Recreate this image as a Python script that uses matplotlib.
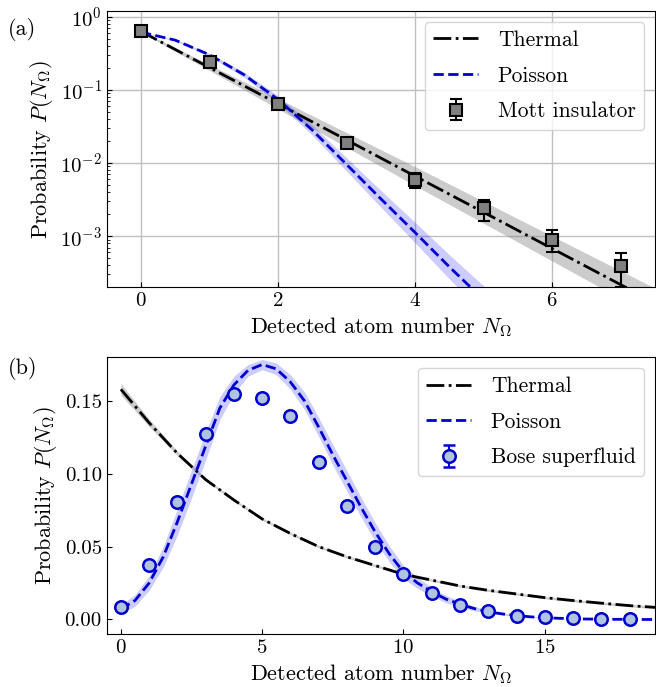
import matplotlib
matplotlib.use("Agg")
import matplotlib.pyplot as plt
import numpy as np

plt.rcParams['font.family'] = 'serif'
plt.rcParams['font.serif'] = ['cmr10']
plt.rcParams['mathtext.fontset'] = 'cm'
plt.rcParams['axes.formatter.use_mathtext'] = True
plt.rcParams['axes.unicode_minus'] = False

# ---- (a) Mott insulator, log scale ----
mott_n = [0, 1, 2, 3, 4, 5, 6, 7]
mott_p = [0.645, 0.243, 0.0645, 0.0187, 0.0059, 0.0024, 0.0009, 0.00039]
mott_err = [0.01, 0.006, 0.002, 0.001, 0.0013, 0.00077, 0.0003, 0.00019]

therm_a_n = [0, 1, 2, 3, 4, 5, 6, 7, 8]
therm_a_p = [0.631, 0.202, 0.0646, 0.0207, 0.00661, 0.00212, 0.000677, 0.000217, 0.0000694]
therm_a_band = [0.01, 0.04, 0.07, 0.10, 0.13, 0.15, 0.17, 0.19, 0.21]  # half width in decades

pois_a_n = [0, 0.5, 1, 1.5, 2, 2.5, 3, 3.5, 4, 4.5, 5]
pois_a_p = [0.617, 0.479, 0.302, 0.162, 0.0741, 0.0282, 0.00955, 0.00324, 0.00112, 0.00038, 0.000135]
pois_a_band = [0.005, 0.01, 0.02, 0.035, 0.05, 0.07, 0.09, 0.115, 0.14, 0.165, 0.19]

# ---- (b) Bose superfluid, linear scale ----
bose_n = list(range(19))
bose_p = [0.0087, 0.0372, 0.0807, 0.127, 0.155, 0.1517, 0.1397, 0.108, 0.0777, 0.0494,
          0.031, 0.0184, 0.0099, 0.0057, 0.0027, 0.0014, 0.0007, 0.0005, 0.0003]
bose_err = [0.002] * 19

therm_b_n = list(range(20))
therm_b_p = [0.158, 0.135, 0.114, 0.096, 0.082, 0.069, 0.059, 0.050, 0.043, 0.037,
             0.031, 0.027, 0.023, 0.020, 0.0175, 0.015, 0.013, 0.0112, 0.0095, 0.0082]
therm_b_err = [0.004, 0.0025, 0.0015, 0.001] + [0.0008] * 16

pois_b_n = np.arange(0, 19.01, 0.5)
pois_b_p = [0.007, 0.013, 0.025, 0.043, 0.067, 0.093, 0.119, 0.145, 0.161, 0.171,
            0.175, 0.172, 0.163, 0.150, 0.132, 0.113, 0.095, 0.077, 0.060, 0.045,
            0.0325, 0.025, 0.019, 0.014, 0.0105, 0.0075, 0.0053, 0.0038, 0.0027, 0.0018,
            0.0012, 0.0008, 0.0005, 0.0003, 0.0002, 0.0001, 0.0001, 0.0, 0.0]
pois_b_err = [0.003, 0.004, 0.005, 0.007, 0.009, 0.0095, 0.0095, 0.008, 0.006, 0.004,
              0.0035, 0.004, 0.005, 0.006, 0.0065, 0.007, 0.007, 0.0068, 0.0063, 0.0055,
              0.0045, 0.0037, 0.003, 0.0025, 0.002, 0.0015, 0.001, 0.0008, 0.0006, 0.0004,
              0.0003, 0.0002, 0.0002, 0.0001, 0.0001, 0.0001, 0.0001, 0.0001, 0.0001]

blue = '#0000cd'
fs_tick = 15
fs_lab = 16
leg_kw = dict(loc='upper right', fontsize=15.5, labelspacing=0.75,
              handlelength=2.1, handletextpad=0.9)

fig = plt.figure(figsize=(6.56, 6.87), dpi=100)
ax1 = fig.add_axes([0.1627, 0.5818, 0.8358, 0.4022])
ax2 = fig.add_axes([0.1627, 0.0771, 0.8358, 0.4029])

# panel (a)
ta = np.array(therm_a_p)
tb = np.array(therm_a_band)
ax1.fill_between(therm_a_n, ta / 10**tb, ta * 10**tb, color='0.5', alpha=0.4, lw=0, zorder=1)
pa = np.array(pois_a_p)
pb = np.array(pois_a_band)
ax1.fill_between(pois_a_n, pa / 10**pb, pa * 10**pb, color='blue', alpha=0.2, lw=0, zorder=1)
ax1.plot(therm_a_n, therm_a_p, color='black', ls='-.', lw=2, label='Thermal', zorder=2)
ax1.plot(pois_a_n, pois_a_p, color=blue, ls='--', lw=2, label='Poisson', zorder=2)
ax1.errorbar(mott_n, mott_p, yerr=mott_err, fmt='s', ms=9, mfc='0.5', mec='black', mew=1.5,
             ecolor='black', elinewidth=1.5, capsize=4, capthick=1.5,
             label='Mott insulator', zorder=3)
ax1.set_yscale('log')
ax1.set_xlim(-0.5, 7.5)
ax1.set_ylim(2e-4, 1.2)
ax1.set_xticks([0, 2, 4, 6])
ax1.grid(True, which='major', color='0.75', lw=1)
ax1.set_axisbelow(True)
ax1.set_xlabel(r'Detected atom number $N_\Omega$', fontsize=fs_lab)
ax1.set_ylabel(r'Probability $P(N_\Omega)$', fontsize=fs_lab)
ax1.tick_params(direction='in', which='both', labelsize=fs_tick)
ax1.legend(**leg_kw)

# panel (b)
tbp = np.array(therm_b_p)
tbe = np.array(therm_b_err)
ax2.fill_between(therm_b_n, tbp - tbe, tbp + tbe, color='0.5', alpha=0.4, lw=0, zorder=1)
pbp = np.array(pois_b_p)
pbe = np.array(pois_b_err)
ax2.fill_between(pois_b_n, pbp - pbe, pbp + pbe, color='blue', alpha=0.2, lw=0, zorder=1)
ax2.plot(therm_b_n, therm_b_p, color='black', ls='-.', lw=2, label='Thermal', zorder=2)
ax2.plot(pois_b_n, pois_b_p, color=blue, ls='--', lw=2, label='Poisson', zorder=2)
ax2.errorbar(bose_n, bose_p, yerr=bose_err, fmt='o', ms=9, mfc='lightsteelblue', mec=blue, mew=1.8,
             ecolor=blue, elinewidth=1.5, capsize=4, capthick=1.5,
             label='Bose superfluid', zorder=3)
ax2.set_xlim(-0.5, 18.9)
ax2.set_ylim(-0.01, 0.18)
ax2.set_xticks([0, 5, 10, 15])
ax2.set_yticks([0.0, 0.05, 0.10, 0.15])
ax2.set_yticklabels(['0.00', '0.05', '0.10', '0.15'])
ax2.set_xlabel(r'Detected atom number $N_\Omega$', fontsize=fs_lab)
ax2.set_ylabel(r'Probability $P(N_\Omega)$', fontsize=fs_lab)
ax2.tick_params(direction='in', which='both', labelsize=fs_tick)
ax2.legend(**leg_kw)

fig.text(0.012, 0.957, '(a)', fontsize=fs_lab, va='center')
fig.text(0.012, 0.463, '(b)', fontsize=fs_lab, va='center')

fig.savefig('out.png', dpi=100)
